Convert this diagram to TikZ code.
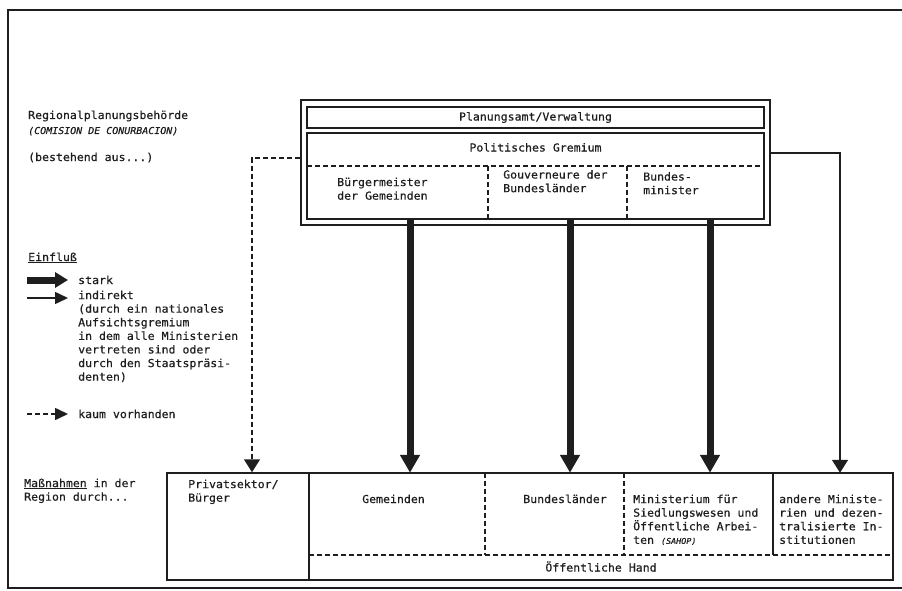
\documentclass[tikz,border=0pt]{standalone}
\usepackage{fontspec}
\setmonofont[FakeStretch=1.05,FakeBold=0.5]{DejaVu Sans Mono}
\usetikzlibrary{arrows.meta}
\definecolor{ink}{HTML}{1E1E1E}
\begin{document}
\begin{tikzpicture}[x=1pt,y=-1pt,
  txt/.style={font=\ttfamily\fontsize{11}{13.6}\selectfont, inner sep=0pt, text=ink},
  ml/.style={txt, align=left, anchor=north west},
  bl/.style={txt, anchor=base west},
  box/.style={draw=ink, line width=1.5pt, inner sep=0pt},
  cell/.style={inner sep=0pt},
  dsh/.style={draw=ink, line width=1.6pt, dash pattern=on 5pt off 3pt},
  thinarr/.style={draw=ink, line width=1.5pt, -{Triangle[length=13pt,width=16pt]}},
  dasharr/.style={dsh, -{Triangle[length=13pt,width=16pt]}},
  thkarr/.style={draw=ink, line width=7pt, -{Triangle[length=18pt,width=19pt]}},
  legthk/.style={draw=ink, line width=7pt, -{Triangle[length=13pt,width=15pt]}},
  legthin/.style={draw=ink, line width=1.5pt, -{Triangle[length=13pt,width=12pt]}},
  legdash/.style={dsh, -{Triangle[length=13pt,width=12pt]}}
]
\useasboundingbox (0,0) rectangle (902,591);
% page frame
\coordinate (fr1) at (902,10);
\coordinate (fr2) at (8,10);
\coordinate (fr3) at (8,588);
\coordinate (fr4) at (902,588);
\draw[ink, line width=1.6pt] (fr1) -- (fr2) -- (fr3) -- (fr4);

% top-left labels
\node[bl] (rpb) at (28,119) {Regionalplanungsbehörde};
\node[bl, font=\ttfamily\itshape\fontsize{9.5}{11}\selectfont] (cdc) at (28,134) {(COMISION DE CONURBACION)};
\node[bl] (bst) at (28,161) {(bestehend aus...)};

% top structure
\node[box, minimum width=469pt, minimum height=125pt] (outer) at (535.5,162.5) {};
\node[box, txt, minimum width=457pt, minimum height=21pt] (plan) at (535.5,117.5) {Planungsamt/Verwaltung};
\node[box, minimum width=457pt, minimum height=86pt] (pol) at (535.5,176) {};
\node[bl, anchor=base] (polt) at (535.5,151.5) {Politisches Gremium};
\node[cell, minimum width=181pt, minimum height=53pt] (bm) at (397.5,192.5) {};
\node[cell, minimum width=139pt, minimum height=53pt] (gv) at (557.5,192.5) {};
\node[cell, minimum width=137pt, minimum height=53pt] (bmin) at (695.5,192.5) {};
\draw[dsh] (bm.north west) -- (bmin.north east);
\draw[dsh] (bm.north east) -- (bm.south east);
\draw[dsh] (gv.north east) -- (gv.south east);
\node[ml] (bmt) at (337,177.5) {Bürgermeister\\der Gemeinden};
\node[ml] (gvt) at (503,170) {Gouverneure der\\Bundesländer};
\node[ml] (bmint) at (643,172) {Bundes-\\minister};

% legend
\node[bl] (einf) at (28,261) {\underline{Einfluß}};
\coordinate (l1a) at (27,280);
\coordinate (l1b) at (68,280);
\draw[legthk] (l1a) -- (l1b);
\node[bl] (stark) at (78,284) {stark};
\coordinate (l2a) at (27,298);
\coordinate (l2b) at (68,298);
\draw[legthin] (l2a) -- (l2b);
\node[ml] (indir) at (78,290.5) {indirekt\\(durch ein nationales\\Aufsichtsgremium\\in dem alle Ministerien\\vertreten sind oder\\durch den Staatspräsi-\\denten)};
\coordinate (l3a) at (27,414);
\coordinate (l3b) at (68,414);
\draw[legdash] (l3a) -- (l3b);
\node[bl] (kaum) at (78,418) {kaum vorhanden};

% bottom structure
\node[ml] (mass) at (24,478.5) {\underline{Maßnahmen} in der\\Region durch...};
\node[box, minimum width=142pt, minimum height=107pt] (priv) at (238,526.5) {};
\node[box, minimum width=584pt, minimum height=107pt] (rest) at (601,526.5) {};
\node[cell, minimum width=176pt, minimum height=82pt] (gem) at (397,514) {};
\node[cell, minimum width=139pt, minimum height=82pt] (bld) at (554.5,514) {};
\node[cell, minimum width=149pt, minimum height=82pt] (min) at (698.5,514) {};
\node[cell, minimum width=120pt, minimum height=82pt] (and) at (833,514) {};
\draw[dsh] (gem.south west) -- (and.south east);
\draw[dsh] (gem.north east) -- (gem.south east);
\draw[dsh] (bld.north east) -- (bld.south east);
\draw[ink, line width=1.5pt] (min.north east) -- (min.south east);
\node[ml] (privt) at (188,479.5) {Privatsektor/\\Bürger};
\node[bl, anchor=base] (gemt) at (393.5,503) {Gemeinden};
\node[bl, anchor=base] (bldt) at (565,503) {Bundesländer};
\node[ml] (mint) at (633,494.5) {Ministerium für\\Siedlungswesen und\\Öffentliche Arbei-\\ten {\itshape\fontsize{8}{10}\selectfont (SAHOP)}};
\node[ml] (andt) at (779,494.5) {andere Ministe-\\rien und dezen-\\tralisierte In-\\stitutionen};
\node[bl, anchor=base] (oeff) at (601,571.5) {Öffentliche Hand};

% connectors
\draw[dasharr] ([yshift=4.5pt]outer.west) -| ([xshift=14pt]priv.north);
\draw[thinarr] ([yshift=9.5pt]outer.east) -| ([xshift=7pt]and.north);
\draw[thkarr] ([xshift=12.5pt]bm.south) -- ([xshift=12.5pt]bm.south |- gem.north);
\draw[thkarr] ([xshift=12.5pt]gv.south) -- ([xshift=12.5pt]gv.south |- gem.north);
\draw[thkarr] ([xshift=14.5pt]bmin.south) -- ([xshift=14.5pt]bmin.south |- gem.north);
\end{tikzpicture}
\end{document}
